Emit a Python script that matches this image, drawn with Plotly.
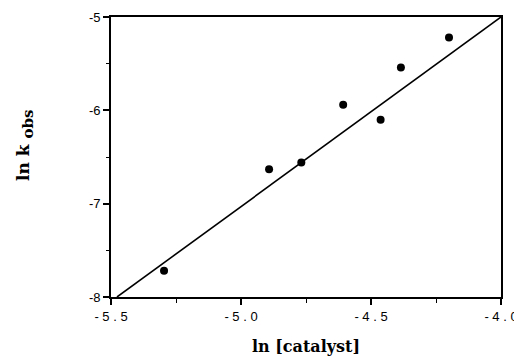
import plotly.graph_objects as go

# measured points: ln[catalyst] vs ln k_obs
ln_cat = [-5.296, -4.892, -4.768, -4.607, -4.463, -4.385, -4.200]
ln_kobs = [-7.72, -6.63, -6.56, -5.94, -6.10, -5.54, -5.22]

# least-squares line endpoints
fit_x = [-5.477, -4.0]
fit_y = [-8.0, -5.0]

x_ticks = [-5.5, -5.0, -4.5, -4.0]
x_ticktext = ["- 5 . 5", "- 5 . 0", "- 4 . 5", "- 4 . 0"]
y_ticks = [-8, -7, -6, -5]
y_ticktext = ["-8", "-7", "-6", "-5"]

fig = go.Figure()
fig.add_trace(go.Scatter(x=fit_x, y=fit_y, mode="lines",
                         line=dict(color="black", width=1.6),
                         showlegend=False, cliponaxis=False))
fig.add_trace(go.Scatter(x=ln_cat, y=ln_kobs, mode="markers",
                         marker=dict(color="black", size=8),
                         showlegend=False))

tick_font = dict(family="Liberation Sans, Arial, sans-serif", size=13, color="black")
title_font = dict(family="DejaVu Serif, serif", size=16, color="black")

fig.update_layout(
    width=514, height=360,
    margin=dict(l=111, r=13, t=17, b=63),
    paper_bgcolor="white", plot_bgcolor="white",
    xaxis=dict(
        range=[-5.5, -4.0], tickvals=x_ticks, ticktext=x_ticktext,
        ticklabeloverflow="allow", automargin=False,
        ticks="outside", ticklen=6, tickwidth=1.5, tickcolor="black",
        minor=dict(dtick=0.25, tick0=-5.5, ticks="outside", ticklen=4,
                   tickwidth=1.2, tickcolor="black", showgrid=False),
        showline=True, linecolor="black", linewidth=1.8, mirror=True,
        showgrid=False, zeroline=False, tickfont=tick_font,
        title=dict(text="<b>ln [catalyst]</b>", font=title_font, standoff=18),
    ),
    yaxis=dict(
        range=[-8, -5], tickvals=y_ticks, ticktext=y_ticktext,
        automargin=False,
        ticks="outside", ticklen=6, tickwidth=1.5, tickcolor="black",
        minor=dict(dtick=0.5, tick0=-8, ticks="outside", ticklen=3,
                   tickwidth=1.2, tickcolor="black", showgrid=False),
        showline=True, linecolor="black", linewidth=1.8, mirror=True,
        showgrid=False, zeroline=False, tickfont=tick_font,
    ),
    annotations=[dict(
        text="<b>ln k <sub><span style='font-size:15px'>obs</span></sub></b>",
        xref="paper", yref="paper", x=-0.22, y=0.54,
        xanchor="center", yanchor="middle", textangle=-90,
        showarrow=False, font=dict(family="DejaVu Serif, serif", size=17, color="black"),
    )],
)

fig.write_html("out.html")
